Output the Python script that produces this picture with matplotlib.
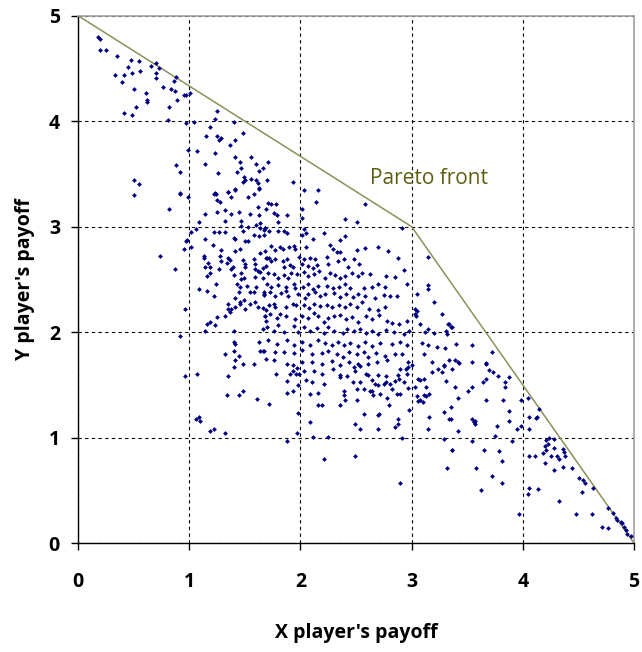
import numpy as np
import matplotlib.pyplot as plt

# payoff samples (x, y pairs)
x_payoff = [
    0.18, 0.20, 0.20, 0.25, 0.35, 0.48, 0.55, 0.45, 0.66, 0.70, 0.73, 0.33, 0.41, 0.49, 0.56, 0.70, 0.70,
    0.40, 0.88, 0.86, 0.76, 0.84, 0.87, 0.50, 0.61, 0.95, 0.97, 1.01, 0.62, 0.62, 0.89, 0.82, 0.52, 0.41,
    0.49, 1.25, 1.23, 0.81, 0.97, 1.04, 1.40, 1.48, 1.19, 1.15, 1.25, 1.27, 1.29, 1.41, 1.37, 0.99, 1.07,
    1.23, 1.41, 1.56, 1.14, 1.46, 1.47, 1.60, 1.63, 1.66, 0.88, 0.92, 1.26, 1.43, 1.49, 1.50, 1.48, 1.56,
    1.60, 1.62, 1.63, 1.70, 0.50, 0.55, 1.41, 1.35, 1.23, 0.92,
    1.71, 1.93, 2.03, 2.16,
    0.50, 0.92, 0.99, 1.22, 1.24, 1.25, 1.28, 1.35, 1.41, 1.38, 1.53, 1.58, 1.63, 0.82, 1.14, 1.25, 1.32,
    1.38, 1.45, 1.55, 1.63, 1.62, 1.69, 1.32, 1.47, 1.47, 1.48, 1.09, 1.06, 1.02, 1.22, 1.27, 1.32, 1.53,
    1.60, 1.64, 1.64, 1.67, 1.63, 1.67, 1.68, 1.40, 1.41, 1.50, 1.46, 1.53, 1.58, 1.14, 0.98, 0.97, 1.02,
    0.95, 1.21, 1.29, 1.41, 1.64, 1.68, 1.69, 0.74, 1.13, 1.13, 1.28, 1.29, 1.35, 1.37, 1.34, 1.48, 1.50,
    1.50, 1.58, 1.59, 1.59, 1.62, 1.66, 1.64, 1.69, 1.17, 1.19, 1.14, 1.27, 1.38, 1.39, 0.87, 1.19, 1.16,
    1.40, 1.47, 1.49, 1.47, 1.59, 1.66, 1.24, 1.43, 1.46, 1.52, 1.60, 1.09, 1.16, 1.45, 1.55, 1.58, 1.67,
    1.67, 1.22, 1.41, 1.46, 1.46, 1.49, 1.55, 1.59, 1.62, 1.66, 1.69, 1.35, 1.35, 1.37, 1.38, 1.41, 1.50,
    0.96, 1.25, 1.32, 1.19, 1.16, 1.23, 1.68, 1.69, 1.14, 1.40, 1.66, 0.92, 1.40, 1.41, 1.63, 1.64, 1.66,
    1.32, 1.40, 1.45, 1.41, 1.48, 1.58, 1.69,
    0.96, 1.07, 1.35, 1.40, 1.34, 1.45, 1.48, 1.61, 1.06, 1.09, 1.10, 1.19, 1.22, 1.32,
    2.14, 2.58, 2.40, 2.51, 2.91, 1.71, 1.74, 1.78, 1.76, 1.79, 1.80, 1.88, 2.01, 2.01, 1.68, 1.72, 1.80,
    1.85, 1.88, 2.03, 2.05, 2.01, 2.21, 2.11, 2.36, 2.40, 1.74, 1.77, 1.82, 1.84, 1.90, 1.94, 1.95, 2.05,
    2.27, 2.29, 2.33, 2.36, 2.51, 2.58, 2.70, 2.79, 2.88, 3.15, 1.70, 1.72, 1.74, 1.77, 1.84, 1.88, 1.91,
    1.85, 1.93, 1.99, 2.03, 2.09, 2.13, 2.01, 2.07, 2.11, 2.15, 2.24, 2.25, 2.34, 2.39, 2.43, 2.48, 2.53,
    1.71, 1.76, 1.80, 1.85, 1.89, 1.92, 1.97, 2.03, 2.07, 2.12, 2.17, 2.22, 2.27, 2.31, 2.36, 2.40, 2.46,
    2.52, 2.55, 2.63, 2.77, 2.85, 2.93, 2.96, 3.15, 3.15, 1.70, 1.74, 1.80, 1.87, 1.94, 1.95, 2.02, 2.07,
    2.11, 2.16, 2.24, 2.29, 2.35, 2.40, 2.45, 2.57, 2.64, 2.70, 2.76, 1.67, 1.73, 1.77, 1.83, 1.87, 1.89,
    1.98, 2.04, 2.07, 2.13, 2.18, 2.22, 2.30, 2.36, 2.41, 2.47, 2.52, 2.58, 2.67, 2.75, 2.81, 2.87, 3.05,
    3.20, 1.72, 1.76, 1.77, 1.87, 1.93, 1.96, 2.03, 2.08, 2.12, 2.18, 2.24, 2.28, 2.35, 2.40, 2.45, 2.51,
    2.55, 2.62, 2.70, 2.76, 3.03, 3.05, 3.03, 3.04, 1.68, 1.73, 1.79, 1.82, 1.87, 1.95, 2.01, 2.07, 2.12,
    2.16, 2.21, 2.25, 2.30, 2.36, 2.41, 2.46, 2.52, 2.59, 2.64, 2.71, 2.78, 2.82, 2.89, 2.96, 3.08, 3.15,
    3.27, 3.33, 3.35, 1.70, 1.76, 1.80, 1.85, 1.94, 1.98, 2.03, 2.09, 2.15, 2.21, 2.25, 2.30, 2.38, 2.42,
    2.48, 2.54, 2.59, 2.64, 2.70, 2.77, 2.84, 2.93, 2.98, 3.12, 3.20, 3.32, 1.71, 1.79, 1.88, 1.94, 2.01,
    2.09, 2.16, 2.22, 2.28, 2.34, 2.39, 2.45, 2.52, 2.58, 2.64, 2.72, 2.82, 2.90, 2.96, 3.09, 3.15, 3.23,
    3.30, 1.67, 1.77, 1.85, 1.94, 2.01, 2.10, 2.19, 2.25, 2.33, 2.38, 2.44, 2.51, 2.57, 2.61, 2.68, 2.76,
    2.85, 2.91, 2.97, 3.00, 3.11, 3.18, 3.29, 1.76, 1.88, 1.93, 2.01, 2.10, 2.19, 2.28, 2.36, 2.44, 2.52,
    2.61, 2.69, 2.78,
    1.78, 1.88, 1.91, 1.93, 1.97, 1.96, 1.99, 2.03, 2.05, 2.10, 2.12, 2.19, 1.88, 1.93, 1.98, 2.09, 2.16,
    2.21, 2.29, 2.36, 2.36, 2.42, 2.48, 2.49, 2.54, 2.47, 2.54, 2.59, 2.61, 2.64, 2.67, 2.70, 2.75, 2.70,
    2.77, 2.77, 2.81, 2.85, 2.89, 2.88, 2.90, 2.95, 2.97, 2.96, 2.93, 2.97, 3.03, 3.06, 3.08, 3.11, 3.13,
    3.18, 3.24, 3.27, 3.29, 3.31, 3.36, 2.39, 2.39, 2.40, 2.51, 2.57, 2.63, 2.64, 2.65, 2.72, 2.78, 2.82,
    2.87, 2.90, 3.05, 3.06, 3.08, 3.11, 3.13, 3.16, 3.10, 1.72, 1.98, 2.16, 2.19, 2.36, 2.51, 2.80, 2.98,
    2.09, 2.57, 2.70, 2.71, 2.49, 2.54, 2.70, 2.88, 2.88, 2.85, 3.16, 3.15, 3.29, 3.35, 1.97, 2.11, 2.25,
    1.88, 2.91, 3.29, 2.21, 2.49, 3.36, 3.32, 2.90,
    3.43, 3.67, 3.64, 3.67, 3.70, 3.73, 3.78, 3.84, 3.84, 3.88, 3.39, 3.51, 3.54, 3.42, 3.67, 3.82, 3.98,
    4.05, 4.15, 3.35, 3.88, 3.88, 3.34, 3.54, 3.56, 3.57, 3.57, 3.77, 3.95, 3.98, 4.06, 4.06, 4.12, 4.13,
    3.42, 3.75, 3.54, 3.90, 3.36, 3.65, 3.79, 3.81, 3.58, 3.72, 3.81, 3.62, 3.97, 4.06, 4.11, 4.06, 4.14,
    4.05, 4.21, 4.24, 4.28, 4.20, 4.23, 4.21, 4.18, 4.25, 4.28, 4.31, 4.33, 4.36, 4.37, 4.38, 4.36, 4.28,
    4.20, 4.44, 4.51, 4.54, 4.56, 4.63, 4.53, 4.33, 4.48, 4.62, 4.71, 4.77, 4.77, 4.81, 4.84, 4.85, 4.88,
    4.89, 4.91, 4.93, 4.94, 4.97,
    3.34, 3.36, 3.31, 3.40, 3.54, 3.72, 3.34, 3.39, 3.42, 3.54, 3.67,
]
y_payoff = [
    4.80, 4.78, 4.67, 4.67, 4.62, 4.58, 4.57, 4.51, 4.52, 4.55, 4.50, 4.44, 4.44, 4.46, 4.48, 4.46, 4.41,
    4.37, 4.42, 4.38, 4.32, 4.30, 4.29, 4.30, 4.27, 4.25, 4.25, 4.27, 4.20, 4.18, 4.20, 4.13, 4.13, 4.08,
    4.06, 4.10, 4.02, 4.01, 3.98, 3.99, 3.99, 3.89, 3.94, 3.86, 3.86, 3.82, 3.84, 3.82, 3.77, 3.73, 3.72,
    3.70, 3.66, 3.66, 3.59, 3.61, 3.56, 3.59, 3.53, 3.56, 3.58, 3.52, 3.51, 3.52, 3.47, 3.44, 3.42, 3.45,
    3.44, 3.41, 3.37, 3.44, 3.44, 3.40, 3.36, 3.33, 3.32, 3.32,
    3.61, 3.42, 3.35, 3.35,
    3.30, 3.31, 3.28, 3.31, 3.31, 3.25, 3.23, 3.33, 3.35, 3.28, 3.28, 3.31, 3.36, 3.17, 3.12, 3.14, 3.16,
    3.12, 3.14, 3.12, 3.11, 3.19, 3.17, 3.05, 3.05, 3.01, 2.96, 3.04, 2.98, 2.95, 2.95, 2.95, 2.95, 3.00,
    3.02, 3.03, 2.99, 2.97, 2.91, 2.92, 2.99, 2.89, 2.88, 2.86, 2.79, 2.86, 2.92, 2.88, 2.87, 2.86, 2.81,
    2.79, 2.83, 2.78, 2.77, 2.75, 2.77, 2.70, 2.72, 2.72, 2.70, 2.72, 2.67, 2.70, 2.68, 2.66, 2.68, 2.65,
    2.62, 2.69, 2.65, 2.60, 2.58, 2.61, 2.57, 2.63, 2.66, 2.62, 2.62, 2.60, 2.60, 2.62, 2.60, 2.56, 2.53,
    2.54, 2.56, 2.51, 2.50, 2.52, 2.51, 2.46, 2.46, 2.43, 2.44, 2.43, 2.41, 2.39, 2.38, 2.38, 2.38, 2.38,
    2.35, 2.34, 2.32, 2.29, 2.27, 2.30, 2.27, 2.29, 2.24, 2.23, 2.21, 2.27, 2.22, 2.19, 2.22, 2.24, 2.22,
    2.22, 2.14, 2.15, 2.10, 2.08, 2.07, 2.15, 2.11, 2.01, 2.01, 2.03, 1.96, 1.91, 1.89, 1.91, 1.82, 1.82,
    1.79, 1.82, 1.77, 1.74, 1.70, 1.70, 1.75,
    1.58, 1.60, 1.58, 1.67, 1.40, 1.40, 1.44, 1.37, 1.18, 1.20, 1.16, 1.06, 1.08, 1.04,
    3.23, 3.21, 3.07, 3.04, 2.99, 3.22, 3.21, 3.21, 3.13, 3.11, 3.04, 3.11, 3.17, 3.08, 2.99, 2.96, 2.96,
    2.96, 2.94, 2.98, 2.94, 2.92, 2.94, 2.88, 2.87, 2.91, 2.82, 2.78, 2.81, 2.79, 2.81, 2.82, 2.79, 2.81,
    2.83, 2.79, 2.76, 2.76, 2.78, 2.80, 2.81, 2.77, 2.70, 2.71, 2.70, 2.70, 2.67, 2.69, 2.67, 2.69, 2.64,
    2.62, 2.62, 2.71, 2.69, 2.70, 2.69, 2.65, 2.63, 2.61, 2.64, 2.71, 2.65, 2.67, 2.69, 2.62, 2.69, 2.65,
    2.56, 2.55, 2.51, 2.54, 2.51, 2.56, 2.55, 2.57, 2.53, 2.55, 2.58, 2.51, 2.56, 2.54, 2.51, 2.53, 2.56,
    2.53, 2.56, 2.55, 2.53, 2.52, 2.59, 2.46, 2.45, 2.41, 2.46, 2.43, 2.45, 2.43, 2.46, 2.42, 2.43, 2.46,
    2.41, 2.44, 2.44, 2.42, 2.43, 2.46, 2.42, 2.42, 2.43, 2.46, 2.43, 2.36, 2.38, 2.34, 2.37, 2.39, 2.34,
    2.36, 2.32, 2.36, 2.38, 2.34, 2.36, 2.37, 2.33, 2.36, 2.33, 2.36, 2.34, 2.32, 2.35, 2.34, 2.34, 2.36,
    2.29, 2.26, 2.27, 2.24, 2.24, 2.27, 2.26, 2.26, 2.23, 2.27, 2.25, 2.26, 2.24, 2.26, 2.24, 2.27, 2.24,
    2.29, 2.22, 2.21, 2.24, 2.22, 2.20, 2.17, 2.15, 2.15, 2.17, 2.13, 2.17, 2.15, 2.12, 2.15, 2.13, 2.18,
    2.15, 2.10, 2.13, 2.15, 2.16, 2.12, 2.14, 2.10, 2.15, 2.12, 2.16, 2.11, 2.09, 2.08, 2.11, 2.08, 2.03,
    2.17, 2.08, 2.05, 2.05, 2.01, 2.07, 2.00, 2.06, 2.00, 2.05, 2.01, 2.04, 1.99, 2.05, 2.01, 1.99, 2.03,
    2.01, 2.03, 1.99, 2.01, 1.98, 2.02, 2.00, 1.98, 2.01, 2.00, 1.99, 1.98, 1.93, 1.89, 1.93, 1.88, 1.91,
    1.88, 1.93, 1.90, 1.88, 1.91, 1.88, 1.90, 1.87, 1.91, 1.87, 1.90, 1.89, 1.91, 1.88, 1.90, 1.88, 1.86,
    1.85, 1.82, 1.81, 1.81, 1.80, 1.83, 1.79, 1.80, 1.82, 1.79, 1.76, 1.81, 1.79, 1.81, 1.76, 1.80, 1.77,
    1.79, 1.79, 1.72, 1.69, 1.79, 1.72, 1.69, 1.74, 1.70, 1.69, 1.72, 1.72, 1.70, 1.73, 1.69, 1.72, 1.70,
    1.70, 1.72, 1.74,
    1.60, 1.54, 1.60, 1.63, 1.66, 1.60, 1.60, 1.63, 1.55, 1.53, 1.63, 1.60, 1.42, 1.44, 1.50, 1.41, 1.42,
    1.51, 1.65, 1.59, 1.57, 1.58, 1.67, 1.63, 1.68, 1.53, 1.53, 1.60, 1.59, 1.55, 1.51, 1.50, 1.51, 1.59,
    1.58, 1.53, 1.51, 1.54, 1.56, 1.59, 1.65, 1.65, 1.67, 1.60, 1.53, 1.47, 1.48, 1.56, 1.55, 1.56, 1.48,
    1.62, 1.65, 1.62, 1.68, 1.54, 1.65, 1.44, 1.40, 1.36, 1.46, 1.46, 1.44, 1.44, 1.40, 1.41, 1.38, 1.46,
    1.41, 1.41, 1.39, 1.35, 1.36, 1.40, 1.39, 1.41, 1.34, 1.32, 1.23, 1.31, 1.31, 1.31, 1.36, 1.31, 1.26,
    1.15, 1.22, 1.21, 1.22, 1.13, 1.08, 1.08, 1.18, 1.13, 1.10, 1.20, 1.08, 1.24, 1.18, 1.04, 1.01, 1.01,
    0.97, 1.00, 0.99, 0.80, 0.83, 0.88, 0.71, 0.57,
    1.71, 1.71, 1.53, 1.56, 1.64, 1.62, 1.58, 1.53, 1.48, 1.57, 1.48, 1.44, 1.48, 1.38, 1.36, 1.36, 1.36,
    1.38, 1.27, 1.29, 1.25, 1.16, 1.18, 1.18, 1.15, 1.16, 1.13, 1.11, 1.08, 1.11, 1.08, 1.20, 1.19, 1.20,
    1.06, 1.02, 0.97, 0.97, 0.88, 0.88, 0.87, 0.78, 0.71, 0.64, 0.57, 0.50, 0.28, 0.83, 0.83, 0.52, 0.51,
    0.47, 0.98, 1.00, 0.99, 0.92, 0.94, 0.88, 0.85, 0.83, 0.90, 0.83, 0.80, 0.89, 0.86, 0.83, 0.72, 0.69,
    0.76, 0.71, 0.62, 0.60, 0.57, 0.52, 0.48, 0.40, 0.28, 0.28, 0.15, 0.14, 0.33, 0.29, 0.24, 0.22, 0.20,
    0.19, 0.15, 0.12, 0.09, 0.07,
    2.08, 2.05, 2.01, 1.89, 1.88, 1.81, 1.74, 1.74, 1.72, 1.72, 1.70,
]

# pareto front vertices
front_x = [0, 3, 5]
front_y = [5, 3, 0]

fig = plt.figure(figsize=(6.42, 6.52), dpi=100)
ax = fig.add_axes([0.1215, 0.167, 0.866, 0.809])

ax.scatter(x_payoff, y_payoff, s=6, marker='D', color='#000080', linewidths=0, zorder=3)
ax.plot(front_x, front_y, color='#8f8f5a', lw=1.1, zorder=2)
ax.text(3.16, 3.46, 'Pareto front', color='#5f5f14', fontsize=15,
        family='Open Sans', ha='center', va='center')

ax.set_xlim(0, 5)
ax.set_ylim(0, 5)
ax.set_xticks(range(6))
ax.set_yticks(range(6))
ax.grid(True, color='black', linestyle=(0, (3, 3)), linewidth=0.8)
ax.set_axisbelow(True)

for s in ['top', 'right']:
    ax.spines[s].set_color('#a0a0a0')
    ax.spines[s].set_linewidth(1.2)
for s in ['left', 'bottom']:
    ax.spines[s].set_color('black')
    ax.spines[s].set_linewidth(1.0)

ax.tick_params(direction='out', length=5, width=1)
ax.tick_params(axis='x', pad=16)
ax.tick_params(axis='y', pad=8)
for lbl in ax.get_xticklabels() + ax.get_yticklabels():
    lbl.set_fontweight('bold')
    lbl.set_fontsize(14)
    lbl.set_family('Open Sans')

ax.set_xlabel("X player's payoff", fontsize=14, fontweight='bold', family='Open Sans', labelpad=22)
ax.set_ylabel("Y player's payoff", fontsize=14, fontweight='bold', family='Open Sans', labelpad=10)

plt.savefig('out.png', dpi=100)
